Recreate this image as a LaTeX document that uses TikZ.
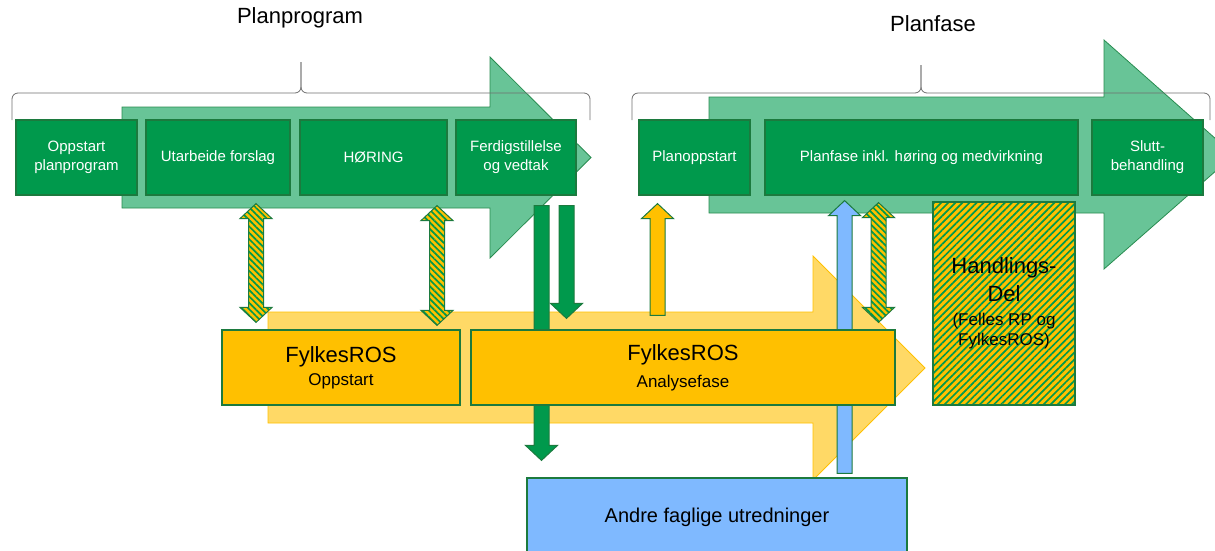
\documentclass[tikz,border=0pt]{standalone}
\usepackage{fontspec}
\setmainfont{Liberation Sans}
\usetikzlibrary{calc,patterns.meta}

\definecolor{boxgreen}{RGB}{0,153,76}
\definecolor{edgegreen}{RGB}{28,122,62}
\definecolor{lightgreen}{RGB}{104,196,151}
\definecolor{arrowedge}{RGB}{40,140,80}
\definecolor{paleyellow}{RGB}{255,217,102}
\definecolor{ros}{RGB}{255,192,0}
\definecolor{skyblue}{RGB}{127,185,255}
\definecolor{bracegray}{RGB}{110,110,110}

\tikzset{
  bigg/.style={draw=arrowedge, line width=0.8pt, fill=lightgreen},
  bigy/.style={draw=ros, line width=0.8pt, fill=paleyellow},
  stage/.style={draw=edgegreen, line width=1.2pt, fill=boxgreen, text=white,
    align=center, inner sep=2pt, minimum height=75,
    font=\fontsize{15}{19}\selectfont},
  rosbox/.style={draw=edgegreen, line width=1.2pt, fill=ros, align=center,
    inner sep=2pt, minimum height=75, font=\fontsize{17}{20}\selectfont},
  hatchbox/.style={draw=edgegreen, line width=1.2pt, preaction={fill=ros},
    pattern={Lines[angle=45,distance=5pt,line width=1.7pt]},
    pattern color=boxgreen, align=center, inner sep=2pt,
    font=\fontsize{17}{20}\selectfont},
  phase/.style={font=\fontsize{22}{26}\selectfont},
  brace/.style={draw=bracegray, line width=0.8pt, rounded corners=6},
  greenarr/.style={draw=edgegreen, line width=1pt, fill=boxgreen},
  rosarr/.style={draw=edgegreen, line width=1pt, fill=ros},
  bluearr/.style={draw=edgegreen, line width=1pt, fill=skyblue},
  hatcharr/.style={draw=edgegreen, line width=1pt, preaction={fill=ros},
    pattern={Lines[angle=-45,distance=4.5pt,line width=1.7pt]},
    pattern color=boxgreen}
}

% block arrow: style, tail, tip
\newcommand{\fatarrow}[3]{%
  \draw[#1] let \p1=(#2), \p2=(#3), \p3=($(#3)!15pt!(#2)$) in
    (\x1-7.5pt,\y1) -- (\x1-7.5pt,\y3) -- (\x1-16pt,\y3) -- (\x1,\y2)
    -- (\x1+16pt,\y3) -- (\x1+7.5pt,\y3) -- (\x1+7.5pt,\y1) -- cycle;}
% block arrow with two heads
\newcommand{\fatdouble}[3]{%
  \draw[#1] let \p1=(#2), \p2=(#3), \p3=($(#3)!15pt!(#2)$), \p4=($(#2)!15pt!(#3)$) in
    (\x1,\y1) -- (\x1+16pt,\y4) -- (\x1+7.5pt,\y4) -- (\x1+7.5pt,\y3)
    -- (\x1+16pt,\y3) -- (\x1,\y2) -- (\x1-16pt,\y3) -- (\x1-7.5pt,\y3)
    -- (\x1-7.5pt,\y4) -- (\x1-16pt,\y4) -- cycle;}

\begin{document}
\begin{tikzpicture}[x=1pt, y=-1pt]
    \useasboundingbox (0,0) rectangle (1215,550);

    % background arrows
    \draw[bigg] (122,107) -- (490,107) -- (490,57) -- (591,157.5) -- (490,258) -- (490,208) -- (122,208) -- cycle;
    \draw[bigg] (709,97) -- (1104,97) -- (1104,40) -- (1234,155) -- (1104,269) -- (1104,213) -- (709,213) -- cycle;
    \draw[bigy] (268,312) -- (813,312) -- (813,256) -- (925,368) -- (813,480) -- (813,423) -- (268,423) -- cycle;

    % braces and phase titles
    \node[phase] (tprog) at (300,18) {Planprogram};
    \node[phase] (tfase) at (933,24) {Planfase};
    \draw[brace] (12,120) -- (12,93) -- (301,93) -- (301,62);
    \draw[brace] (301,62) -- (301,93) -- (590,93) -- (590,120);
    \draw[brace] (632,120) -- (632,93) -- (921,93) -- (921,65);
    \draw[brace] (921,65) -- (921,93) -- (1210,93) -- (1210,120);

    % plan steps
    \node[stage, minimum width=121] (opp) at (76.5,157.5) {Oppstart\\planprogram};
    \node[stage, minimum width=144] (utarb) at (218,157.5) {Utarbeide forslag};
    \node[stage, minimum width=147] (hor) at (373.5,157.5) {HØRING};
    \node[stage, minimum width=120] (ferd) at (516,157.5) {Ferdigstillelse\\og vedtak};
    \node[stage, minimum width=111] (plopp) at (694.5,157.5) {Planoppstart};
    \node[stage, minimum width=313] (pfase) at (921.5,157.5) {Planfase inkl. høring og medvirkning};
    \node[stage, minimum width=111] (slutt) at (1147.5,157.5) {Slutt-\\behandling};

    \node[draw=edgegreen, line width=1.2pt, fill=skyblue, minimum width=380, minimum height=78,
      font=\fontsize{20}{24}\selectfont] (andre) at (717,517) {Andre faglige utredninger};

    \fatarrow{greenarr}{$(ferd.south)+(25.5,10)$}{$(andre.north west)+(14.5,-17)$}
    \fatarrow{bluearr}{$(andre.north east)+(-63,-4)$}{$(pfase.south)+(-77.5,5)$}

    % FylkesROS
    \node[rosbox, minimum width=238] (ros1) at (341,367.5)
      {{\fontsize{22}{26}\selectfont FylkesROS}\\[3pt]Oppstart};
    \node[rosbox, minimum width=424] (ros2) at (683,367.5)
      {{\fontsize{22}{26}\selectfont FylkesROS}\\[7pt]Analysefase};
    \node[hatchbox, minimum width=142, minimum height=203] (hdel) at (1004,303.5)
      {{\fontsize{22}{26}\selectfont Handlings-}\\[7pt]{\fontsize{22}{26}\selectfont Del}\\[4pt](Felles RP og\\FylkesROS)};

    \fatarrow{greenarr}{$(ferd.south)+(50.5,10)$}{$(ros2.north west)+(95.5,-11)$}
    \fatarrow{rosarr}{$(ros2.north)+(-25.5,-14)$}{$(plopp.south)+(-37,8)$}
    \fatdouble{hatcharr}{$(utarb.south)+(38,8)$}{$(ros1.north)+(-85,-7)$}
    \fatdouble{hatcharr}{$(hor.south)+(63.5,10)$}{$(ros1.north)+(96,-4)$}
    \fatdouble{hatcharr}{$(pfase.south)+(-43,7)$}{$(ros2.north east)+(-16.5,-7)$}
\end{tikzpicture}
\end{document}
